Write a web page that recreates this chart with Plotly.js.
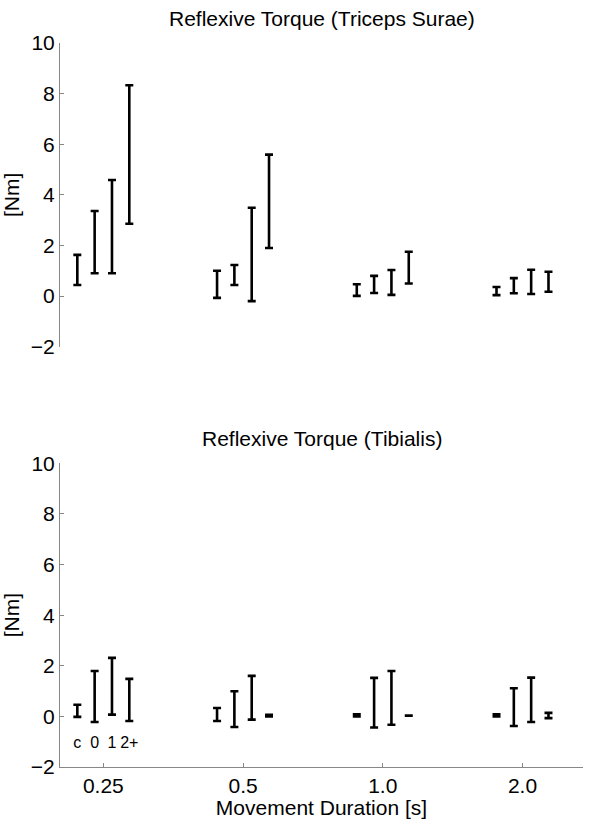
<!DOCTYPE html>
<html>
<head>
<meta charset="utf-8">
<script src="https://cdn.plot.ly/plotly-3.0.1.min.js"></script>
<style>
  body { margin: 0; background: #fff; }
  #myDiv { width: 600px; height: 819px; }
</style>
</head>
<body>
<div id="myDiv"></div>
<script>
var durations = ["0.25", "0.5", "1.0", "2.0"];
var seriesNames = ["c", "0", "1", "2+"];

// Triceps Surae: one row per series, one column per duration
var suraeLow = [
  [0.44, -0.07, 0.01, 0.04],
  [0.90, 0.44, 0.12, 0.11],
  [0.90, -0.20, 0.05, 0.08],
  [2.86, 1.90, 0.50, 0.17]
];
var suraeHigh = [
  [1.63, 1.00, 0.47, 0.36],
  [3.36, 1.23, 0.80, 0.71],
  [4.59, 3.49, 1.03, 1.04],
  [8.33, 5.59, 1.75, 0.96]
];

// Tibialis
var tibLow = [
  [-0.02, -0.18, 0.00, 0.00],
  [-0.22, -0.42, -0.44, -0.38],
  [0.07, -0.13, -0.33, -0.22],
  [-0.18, 0.00, 0.03, -0.07]
];
var tibHigh = [
  [0.46, 0.33, 0.08, 0.08],
  [1.79, 0.99, 1.52, 1.11],
  [2.31, 1.60, 1.79, 1.53],
  [1.48, 0.06, 0.03, 0.14]
];

var labelY = -1.1;

var step = 0.124; // spacing of bars inside a group
var offsets = seriesNames.map(function(s, k) { return (k - 1.5) * step; });
var groupPos = durations.map(function(d, i) { return i + 1; });

function errTraces(low, high, xa, ya) {
  return seriesNames.map(function(name, k) {
    return {
      x: groupPos.map(function(p) { return p + offsets[k]; }),
      y: low[k],
      xaxis: xa, yaxis: ya,
      type: "scatter",
      mode: "markers",
      marker: {size: 1, color: "rgba(0,0,0,0)"},
      error_y: {
        type: "data",
        symmetric: false,
        array: high[k].map(function(h, i) { return h - low[k][i]; }),
        arrayminus: low[k].map(function() { return 0; }),
        color: "#000",
        thickness: 2.6,
        width: 4
      },
      name: name,
      showlegend: false,
      hoverinfo: "skip"
    };
  });
}

var labels = {
  x: offsets.map(function(o) { return groupPos[0] + o; }),
  y: seriesNames.map(function() { return labelY; }),
  text: seriesNames,
  mode: "text",
  type: "scatter",
  textfont: {family: "Liberation Sans, Arial, sans-serif", size: 16, color: "#000"},
  xaxis: "x", yaxis: "y",
  showlegend: false,
  hoverinfo: "skip"
};

var data = errTraces(suraeLow, suraeHigh, "x2", "y2")
  .concat(errTraces(tibLow, tibHigh, "x", "y"))
  .concat([labels]);

var font = {family: "Liberation Sans, Arial, sans-serif", size: 21, color: "#000"};

var yStyle = {
  range: [-2, 10],
  tickvals: [-2, 0, 2, 4, 6, 8, 10],
  ticks: "inside",
  ticklen: 4,
  tickcolor: "#888",
  showline: true,
  linecolor: "#888",
  linewidth: 1,
  showgrid: false,
  zeroline: false,
  tickfont: font,
  title: {text: "[Nm]", font: font, standoff: 6}
};

var layout = {
  width: 600,
  height: 819,
  margin: {l: 60, r: 17, t: 43, b: 52},
  paper_bgcolor: "#fff",
  plot_bgcolor: "#fff",
  font: font,
  showlegend: false,
  xaxis: {
    domain: [0, 1],
    anchor: "y",
    range: [0.69, 4.433],
    tickvals: groupPos,
    ticktext: durations,
    ticks: "inside",
    ticklen: 4,
    tickcolor: "#888",
    showline: true,
    linecolor: "#888",
    linewidth: 1,
    showgrid: false,
    zeroline: false,
    tickfont: font,
    title: {text: "Movement Duration [s]", font: font, standoff: 0}
  },
  xaxis2: {
    domain: [0, 1],
    anchor: "y2",
    range: [0.69, 4.433],
    visible: false
  },
  yaxis: Object.assign({}, yStyle, {domain: [0, 0.4195], anchor: "x"}),
  yaxis2: Object.assign({}, yStyle, {domain: [0.5805, 1], anchor: "x2"}),
  annotations: [
    {text: "Reflexive Torque (Triceps Surae)", xref: "paper", yref: "paper",
     x: 0.5, y: 1, yshift: 11, yanchor: "bottom", showarrow: false, font: font},
    {text: "Reflexive Torque (Tibialis)", xref: "paper", yref: "paper",
     x: 0.5, y: 0.4195, yshift: 11, yanchor: "bottom", showarrow: false, font: font}
  ]
};

Plotly.newPlot("myDiv", data, layout, {staticPlot: true});
</script>
</body>
</html>
